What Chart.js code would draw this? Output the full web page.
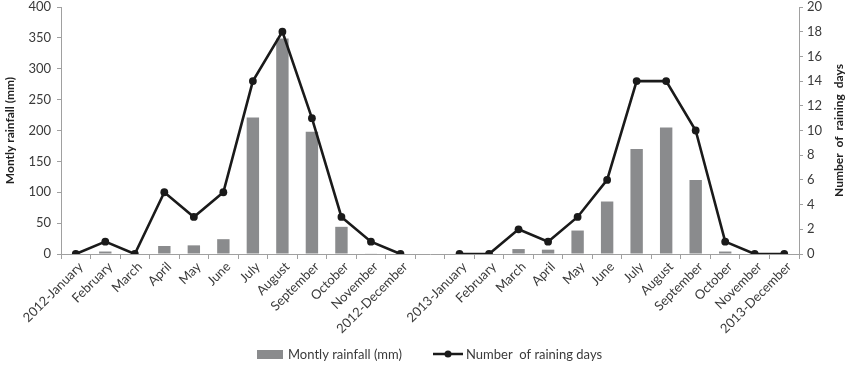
<!DOCTYPE html>
<html><head><meta charset="utf-8">
<script src="https://cdn.jsdelivr.net/npm/chart.js@4.4.1/dist/chart.umd.min.js"></script>
<style>html,body{margin:0;padding:0;background:#fff}#wrap{width:850px;height:371px}</style>
</head><body><div id="wrap"><canvas id="c" width="850" height="371"></canvas></div>
<script>
const categories = ["2012-January","February","March","April","May","June","July","August","September","October","November","2012-December","",
"2013-January","February","March","April","May","June","July","August","September","October","November","2013-December"];
const rainfall = [0,4,0,13,14,24,221,349,198,44,1,0,null, 0,0,8,7,38,85,170,205,120,4,0,0];
const rainingDays = [0,1,0,5,3,5,14,18,11,3,1,0,null, 0,0,2,1,3,6,14,14,10,1,0,0];
const leftTicks = [0,50,100,150,200,250,300,350,400];
const rightTicks = [0,2,4,6,8,10,12,14,16,18,20];

const FONT = "Lato, 'Open Sans', sans-serif";
const TXT = '#3a3a3a';
const AX = '#a0a0a0';

const customDraw = {
  id:'customDraw',
  afterDraw(chart){
    const ctx = chart.ctx, ca = chart.chartArea;
    ctx.save();
    ctx.font = "bold 12px " + FONT;
    ctx.fillStyle = '#222';
    ctx.textAlign='center'; ctx.textBaseline='middle';
    ctx.translate(839, (ca.top+ca.bottom)/2);
    ctx.rotate(-Math.PI/2);
    ctx.fillText("Number  of  raining  days", 0, 0);
    ctx.restore();
    ctx.save();
    const barDs = chart.data.datasets[1], lineDs = chart.data.datasets[0];
    ctx.font = "13px " + FONT;
    ctx.textBaseline='middle'; ctx.textAlign='left';
    ctx.fillStyle = '#8a8b8d';
    ctx.fillRect(257, 350, 26, 9);
    ctx.fillStyle = TXT;
    ctx.fillText(barDs.label, 288, 355);
    ctx.strokeStyle='#1a1a1a'; ctx.lineWidth=2.5;
    ctx.beginPath(); ctx.moveTo(433,354); ctx.lineTo(463,354); ctx.stroke();
    ctx.fillStyle='#1a1a1a';
    ctx.beginPath(); ctx.arc(448,354,3.5,0,Math.PI*2); ctx.fill();
    ctx.fillStyle = TXT;
    ctx.fillText(lineDs.label, 466, 355);
    ctx.restore();
  }
};

function fixPad(s){ s.paddingTop = 7; s.paddingBottom = 0; }

new Chart(document.getElementById('c'), {
  data:{
    labels: categories,
    datasets:[
      {type:'line', label:'Number  of raining days', data: rainingDays, yAxisID:'y1',
       borderColor:'#1a1a1a', backgroundColor:'#1a1a1a', borderWidth:2.6,
       pointRadius:3.9, pointBackgroundColor:'#1a1a1a', pointBorderWidth:0,
       tension:0, spanGaps:false, order:0},
      {type:'bar', label:'Montly rainfall (mm)', data: rainfall, yAxisID:'y',
       backgroundColor:'#8a8b8d', barPercentage:0.42, categoryPercentage:1.0, order:1}
    ]
  },
  options:{
    responsive:false, animation:false,
    layout:{padding:{top:0,left:3,right:0,bottom:0}},
    plugins:{legend:{display:false}, tooltip:{enabled:false}},
    scales:{
      x:{
        offset:true,
        grid:{offset:true, drawOnChartArea:false, drawTicks:true, tickLength:5, color:AX},
        border:{color:AX, width:1},
        ticks:{autoSkip:false, maxRotation:45, minRotation:45, color:TXT, font:{family:FONT,size:13}, padding:0, labelOffset:5},
        afterFit(s){ s.height = 117; }
      },
      y:{
        position:'left', min:0, max:400,
        afterBuildTicks(s){ s.ticks = leftTicks.map(v=>({value:v})); },
        grid:{drawOnChartArea:false, tickLength:4, color:AX},
        border:{color:AX, width:1},
        ticks:{color:TXT, font:{family:FONT,size:13}, padding:6},
        title:{display:true, text:'Montly rainfall (mm)', color:'#222', font:{family:FONT,size:12,weight:'bold'}, padding:{top:0,bottom:1}},
        afterFit(s){ s.width = 58; fixPad(s); }
      },
      y1:{
        position:'right', min:0, max:20,
        afterBuildTicks(s){ s.ticks = rightTicks.map(v=>({value:v})); },
        grid:{drawOnChartArea:false, tickLength:4, color:AX},
        border:{color:AX, width:1},
        ticks:{color:TXT, font:{family:FONT,size:13}, padding:4},
        afterFit(s){ s.width = 51; fixPad(s); }
      }
    }
  },
  plugins:[customDraw]
});
</script></body></html>
